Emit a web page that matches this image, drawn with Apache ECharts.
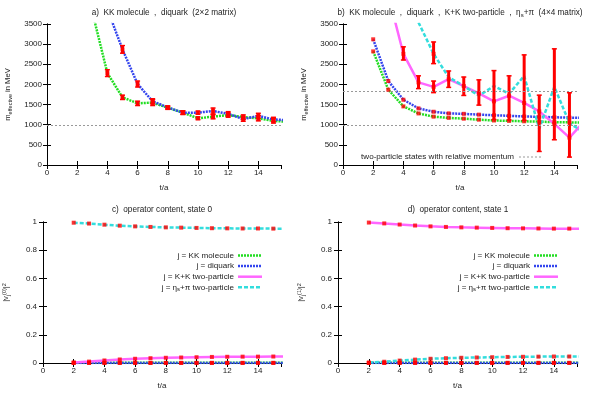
<!DOCTYPE html>
<html><head><meta charset="utf-8">
<script src="https://cdn.jsdelivr.net/npm/echarts@6/dist/echarts.min.js"></script>
<style>html,body{margin:0;padding:0;background:#fff}#c{width:592px;height:395px}</style>
</head><body><div id="c"></div>
<script>
// ---------- Panel a ----------
const tAGreen = [3,4,5,6,7,8,9,10,11,12,13,14,15,16];
const aGreen  = [3800,2280,1680,1530,1550,1420,1300,1160,1200,1240,1190,1160,1095,1070];
const aGreenErr = [null,90,60,60,80,45,50,40,60,60,60,70,60,null];
const tABlue = [4,5,6,7,8,9,10,11,12,13,14,15,16];
const aBlue  = [3870,2870,2010,1580,1430,1300,1300,1340,1270,1140,1220,1130,1110];
const aBlueErr = [null,100,80,70,40,50,45,80,60,60,70,60,null];
const thrA = [985];
// ---------- Panel b ----------
const tB = [2,3,4,5,6,7,8,9,10,11,12,13,14,15,16];
const bGreen = [2820,1870,1455,1280,1200,1170,1150,1125,1105,1095,1085,1075,1065,1058,1050];
const bBlue  = [3120,2085,1620,1405,1322,1281,1270,1250,1235,1220,1205,1195,1185,1175,1170];
const tBMag = [3,4,5,6,7,8,9,10,11,12,13,14,15,16];
const bMag  = [4220,2760,2050,1940,2130,1960,1780,1580,1720,1540,1330,1020,680,1090];
const tBCyan = [5,6,7,8,9,10,11,12,13,14,15,16];
const bCyan  = [3540,2760,2180,1960,1720,1960,1770,2210,900,1940,1040,800];
const errBT    = [4,5,6,6,7,8,9,10,11,12,13,14,15];
const errBLow  = [2600,1890,1790,2510,1920,1720,1480,1120,1110,1100,330,620,190];
const errBHigh = [2940,2220,2090,3060,2340,2190,2120,2350,2220,2740,1740,2890,1800];
const thrB = [985,1840];
// ---------- Panels c, d ----------
const tC = [2,3,4,5,6,7,8,9,10,11,12,13,14,15,16];
const cGreen = [0.001,0.001,0.001,0.001,0.001,0.001,0.001,0.001,0.001,0.001,0.001,0.001,0.001,0.001,0.001];
const cBlue  = [0.0005,0.0005,0.0005,0.0005,0.0005,0.0005,0.0005,0.0005,0.0005,0.0005,0.0005,0.0005,0.0005,0.0005,0.0005];
const cMag   = [0.004,0.010,0.018,0.025,0.030,0.034,0.037,0.039,0.041,0.043,0.044,0.045,0.045,0.046,0.046];
const cCyan  = [0.995,0.989,0.981,0.974,0.969,0.965,0.962,0.960,0.958,0.956,0.955,0.954,0.954,0.953,0.953];
const dGreen = [0.001,0.001,0.001,0.001,0.001,0.001,0.001,0.001,0.001,0.001,0.001,0.001,0.001,0.001,0.001];
const dBlue  = [0.0005,0.0005,0.0005,0.0005,0.0005,0.0005,0.0005,0.0005,0.0005,0.0005,0.0005,0.0005,0.0005,0.0005,0.0005];
const dMag   = [0.996,0.990,0.982,0.975,0.969,0.965,0.962,0.960,0.958,0.956,0.955,0.954,0.953,0.953,0.953];
const dCyan  = [0.003,0.009,0.017,0.024,0.030,0.034,0.037,0.039,0.041,0.043,0.044,0.045,0.046,0.046,0.046];
const legendNames = ['j = KK molecule','j = diquark','j = K+K two-particle','j = {k|η}{ks|s}{k|+π two-particle}'];

const FONT = 'Liberation Sans, Arial, sans-serif';
const COL = {green:'#22dd22', blue:'#3344ee', mag:'#ff66ff', cyan:'#33dddd', red:'#ff0000'};
const STY = {green:[2,1], blue:[2,1], mag:'solid', cyan:[4,2]};

const grids = [
  {left:47, top:24, width:234, height:141},
  {left:343, top:24, width:234, height:141},
  {left:42, top:222, width:239, height:141},
  {left:338, top:222, width:239, height:141}
];
const yMax = [3500,3500,1,1], yInt = [500,500,0.2,0.2];
const richSub = {
  m:{fontSize:8.2, fontFamily:FONT, color:'#222'},
  k:{fontSize:8.1, fontFamily:FONT, color:'#222'},
  ks:{fontSize:6, fontFamily:FONT, color:'#222', padding:[4,0,0,0]},
  y:{fontSize:7.6, fontFamily:FONT, color:'#222'},
  ys:{fontSize:5.5, fontFamily:FONT, color:'#222', padding:[4,0,0,0]},
  yp:{fontSize:5.5, fontFamily:FONT, color:'#222', padding:[0,0,4,0]},
  sub:{fontSize:6, fontFamily:FONT, color:'#222', padding:[4,0,0,0]}
};
const xAxes = [], yAxes = [];
grids.forEach((g,i)=>{
  const common = {type:'value', gridIndex:i, min:0, max:15.5, interval:2,
    axisLine:{show:true, lineStyle:{color:'#000', width:1}},
    axisTick:{show:true, inside:true, length:4, lineStyle:{color:'#000'}},
    splitLine:{show:false}};
  xAxes.push(Object.assign({}, common, {position:'bottom',
    axisLabel:{show:true, fontSize:8, fontFamily:FONT, color:'#222', margin:4, showMaxLabel:false},
    name:'t/a', nameLocation:'middle', nameGap:19, nameTextStyle:{fontSize:8, fontFamily:FONT, color:'#222'}}));
  xAxes.push(Object.assign({}, common, {position:'top', axisLabel:{show:false}}));
  const yc = {type:'value', gridIndex:i, min:0, max:yMax[i], interval:yInt[i],
    axisLine:{show:true, lineStyle:{color:'#000', width:1}},
    axisTick:{show:true, inside:true, length:4, lineStyle:{color:'#000'}},
    splitLine:{show:false}};
  yAxes.push(Object.assign({}, yc, {position:'left',
    axisLabel:{show:true, fontSize:8, fontFamily:FONT, color:'#222', margin:i<2?5:6,
      formatter:v=>String(+v.toFixed(2))},
    name: i<2 ? '{y|m}{ys|effective}{y| in MeV}' : (i===2 ? '{y||v}{ys|j}{yp|(0)}{y||}{yp|2}' : '{y||v}{ys|j}{yp|(1)}{y||}{yp|2}'),
    nameLocation:'middle', nameGap: i<2 ? 34 : 32, nameRotate:90,
    nameTextStyle:{rich:richSub}}));
  yAxes.push(Object.assign({}, yc, {position:'right', axisLabel:{show:false}}));
});

const series = [];
function line(gi, ts, vals, key, extra){
  series.push(Object.assign({type:'line', xAxisIndex:2*gi, yAxisIndex:2*gi, clip:true,
    symbol:'none', silent:true, animation:false,
    lineStyle:{color:COL[key], width:2.5, type:STY[key]},
    data: ts.map((t,k)=>[t, vals[k]])}, extra||{}));
}
function pts(gi, ts, vals, tmin, tmax){
  const d = [];
  ts.forEach((t,k)=>{ if(t>=tmin && t<=tmax && vals[k]!=null && vals[k] <= yMax[gi]) d.push([t, vals[k]]); });
  series.push({type:'scatter', xAxisIndex:2*gi, yAxisIndex:2*gi, symbol:'rect', symbolSize:4,
    itemStyle:{color:COL.red}, data:d, silent:true, animation:false, z:5});
}
function bars(gi, data){
  series.push({type:'custom', xAxisIndex:2*gi, yAxisIndex:2*gi, clip:true, silent:true, animation:false, z:4,
    data:data,
    renderItem:(params, api)=>{
      const x = api.value(0), lo = api.value(1), hi = api.value(2);
      const p1 = api.coord([x, lo]), p2 = api.coord([x, hi]);
      const st = {fill:COL.red};
      return {type:'group', children:[
        {type:'rect', shape:{x:p1[0]-1.5, y:p2[1], width:3, height:p1[1]-p2[1]}, style:st},
        {type:'rect', shape:{x:p1[0]-2.5, y:p2[1]-0.5, width:5, height:1.5}, style:st},
        {type:'rect', shape:{x:p1[0]-2.5, y:p1[1]-1, width:5, height:1.5}, style:st}
      ]};
    }});
}
const thrStyle = {symbol:['none','none'], silent:true, label:{show:false},
  lineStyle:{color:'#999', type:[2,2], width:1}, animation:false};

// Panel a
line(0, tAGreen, aGreen, 'green', {markLine:Object.assign({data:thrA.map(v=>({yAxis:v}))}, thrStyle)});
line(0, tABlue, aBlue, 'blue');
bars(0, tAGreen.map((t,k)=>aGreenErr[k]==null?null:[t, aGreen[k]-aGreenErr[k], aGreen[k]+aGreenErr[k]]).filter(Boolean));
bars(0, tABlue.map((t,k)=>aBlueErr[k]==null?null:[t, aBlue[k]-aBlueErr[k], aBlue[k]+aBlueErr[k]]).filter(Boolean));
pts(0, tAGreen, aGreen, 4, 15);
pts(0, tABlue, aBlue, 5, 15);
// Panel b
line(1, tB, bGreen, 'green', {markLine:Object.assign({data:thrB.map(v=>({yAxis:v}))}, thrStyle)});
line(1, tB, bBlue, 'blue');
line(1, tBMag, bMag, 'mag');
line(1, tBCyan, bCyan, 'cyan');
bars(1, errBT.map((t,k)=>[t, errBLow[k], errBHigh[k]]));
pts(1, tB, bGreen, 2, 15);
pts(1, tB, bBlue, 2, 15);
pts(1, tBMag, bMag, 4, 15);
pts(1, tBCyan, bCyan, 6, 6);
// Panels c, d
[[2,cGreen,cBlue,cMag,cCyan],[3,dGreen,dBlue,dMag,dCyan]].forEach(([gi,g,b,m,c])=>{
  line(gi, tC, g, 'green'); line(gi, tC, b, 'blue'); line(gi, tC, m, 'mag'); line(gi, tC, c, 'cyan');
  [g,b,m,c].forEach(v=>pts(gi, tC, v, 2, 15));
});

// Titles / legends
const graphics = [];
function txt(x, y, text, align){
  graphics.push({type:'text', x:x, y:y, silent:true,
    style:{text:text, align:align||'center', verticalAlign:'middle', rich:richSub,
      fontSize:8, fontFamily:FONT, fill:'#222'}});
}
txt(164, 13, '{m|a)  KK molecule  ,  diquark  (2×2 matrix)}');
txt(460, 13, '{m|b)  KK molecule  ,  diquark  ,  K+K two-particle  ,  η}{sub|s}{m|+π  (4×4 matrix)}');
txt(162, 210, '{m|c)  operator content, state 0}');
txt(458, 210, '{m|d)  operator content, state 1}');
// legend b
txt(514, 157, '{k|two-particle states with relative momentum}', 'right');
graphics.push({type:'line', silent:true, shape:{x1:519, y1:157, x2:541, y2:157},
  style:{stroke:'#999', lineWidth:1, lineDash:[2,2]}});
// legends c, d
const legKeys = ['green','blue','mag','cyan'];
const legY = [255.5, 266, 276.7, 287.3];
[0,296].forEach(dx=>{
  legKeys.forEach((k,i)=>{
    const nm = legendNames[i];
    txt(dx+234, legY[i], nm.indexOf('{')>=0 ? nm : '{k|'+nm+'}', 'right');
    graphics.push({type:'line', silent:true, shape:{x1:dx+238, y1:legY[i], x2:dx+262, y2:legY[i]},
      style:{stroke:COL[k], lineWidth:2.5, lineDash: STY[k]==='solid'?null:STY[k]}});
  });
});

const chart = echarts.init(document.getElementById('c'), null, {renderer:'canvas'});
chart.setOption({
  animation:false,
  backgroundColor:'#fff',
  grid: grids.map(g=>Object.assign({containLabel:false, show:false}, g)),
  xAxis: xAxes, yAxis: yAxes, series: series, graphic: graphics
});
</script></body></html>
